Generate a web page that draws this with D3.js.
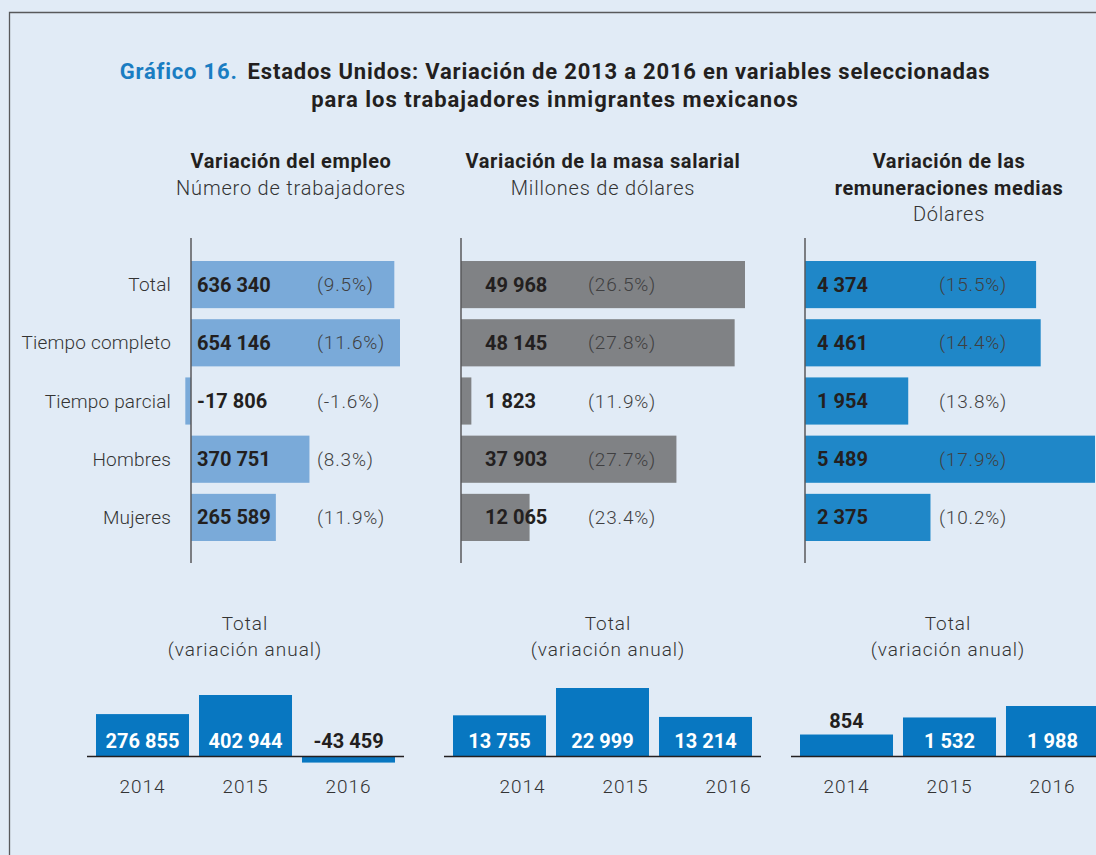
<!DOCTYPE html>
<html>
<head>
<meta charset="utf-8">
<script src="https://cdn.jsdelivr.net/npm/d3@7/dist/d3.min.js"></script>
<style>
  body { margin: 0; background: #e1ebf6; }
  svg { display: block; font-family: Roboto, "Noto Sans", sans-serif; }
</style>
</head>
<body>
<svg id="chart" width="1096" height="855"></svg>
<script>
// Categories and values
const categories = ["Total", "Tiempo completo", "Tiempo parcial", "Hombres", "Mujeres"];
const empleo = [636340, 654146, -17806, 370751, 265589];
const empleoPct = ["9.5%", "11.6%", "-1.6%", "8.3%", "11.9%"];
const masa = [49968, 48145, 1823, 37903, 12065];
const masaPct = ["26.5%", "27.8%", "11.9%", "27.7%", "23.4%"];
const remuneracion = [4374, 4461, 1954, 5489, 2375];
const remuneracionPct = ["15.5%", "14.4%", "13.8%", "17.9%", "10.2%"];

const years = ["2014", "2015", "2016"];
const empleoAnual = [276855, 402944, -43459];
const masaAnual = [13755, 22999, 13214];
const remuneracionAnual = [854, 1532, 1988];

// Spanish style numbers: space as thousands separator, plain hyphen minus
const locale = d3.formatLocale({ decimal: ".", thousands: " ", grouping: [3], currency: ["", ""], minus: "-" });
const fmt = locale.format(",d");

const svg = d3.select("#chart");
const dark = "#231f20";
const grey = "#3f3f41";

// Frame round the figure
svg.append("path")
  .attr("d", "M9.5,855 V12.5 H1096")
  .attr("fill", "none")
  .attr("stroke", "#58595b")
  .attr("stroke-width", 1.3);

// Title
const title = svg.append("text")
  .attr("x", 555)
  .attr("y", 79)
  .attr("text-anchor", "middle")
  .attr("font-size", 22)
  .attr("font-weight", "bold")
  .attr("letter-spacing", 0.8)
  .attr("fill", dark);
title.append("tspan").attr("fill", "#1a7dc2").text("Gráfico 16.");
title.append("tspan").attr("dx", 10).text("Estados Unidos: Variación de 2013 a 2016 en variables seleccionadas");

svg.append("text")
  .attr("x", 555)
  .attr("y", 107)
  .attr("text-anchor", "middle")
  .attr("font-size", 22)
  .attr("font-weight", "bold")
  .attr("letter-spacing", 1)
  .attr("fill", dark)
  .text("para los trabajadores inmigrantes mexicanos");

// Shared vertical band for the horizontal bar panels
const y = d3.scaleBand()
  .domain(categories)
  .range([261, 541])
  .paddingInner(0.19)
  .paddingOuter(0);

// Category labels on the left
svg.append("g")
  .selectAll("text")
  .data(categories)
  .join("text")
  .attr("x", 171)
  .attr("y", (d) => y(d) + y.bandwidth() / 2)
  .attr("dy", "0.35em")
  .attr("text-anchor", "end")
  .attr("font-size", 19)
  .attr("font-weight", 300)
  .attr("letter-spacing", 0.2)
  .attr("fill", "#333")
  .text((d) => d);

function drawPanel(opts) {
  const g = svg.append("g");

  // Header lines
  opts.header.forEach((line, i) => {
    g.append("text")
      .attr("x", opts.center)
      .attr("y", 168 + i * 26.5)
      .attr("text-anchor", "middle")
      .attr("font-size", 20)
      .attr("font-weight", line.bold ? "bold" : 300)
      .attr("letter-spacing", line.bold ? 0.6 : 0.8)
      .attr("fill", line.bold ? dark : "#333")
      .text(line.text);
  });

  const x = d3.scaleLinear().domain([0, opts.max]).range([opts.x0, opts.x0 + opts.width]);

  g.selectAll("rect")
    .data(opts.values)
    .join("rect")
    .attr("x", (d) => Math.min(x(0), x(d)))
    .attr("y", (d, i) => y(categories[i]))
    .attr("width", (d) => Math.abs(x(d) - x(0)))
    .attr("height", y.bandwidth())
    .attr("fill", opts.color);

  // Axis line
  g.append("line")
    .attr("x1", x(0))
    .attr("x2", x(0))
    .attr("y1", 238)
    .attr("y2", 563)
    .attr("stroke", "#58595b")
    .attr("stroke-width", 1.5);

  g.selectAll(".val")
    .data(opts.values)
    .join("text")
    .attr("class", "val")
    .attr("x", opts.valueX)
    .attr("y", (d, i) => y(categories[i]) + y.bandwidth() / 2)
    .attr("dy", "0.35em")
    .attr("font-size", 20)
    .attr("font-weight", "bold")
    .attr("fill", dark)
    .text((d) => fmt(d));

  g.selectAll(".pct")
    .data(opts.pct)
    .join("text")
    .attr("class", "pct")
    .attr("x", opts.pctX)
    .attr("y", (d, i) => y(categories[i]) + y.bandwidth() / 2)
    .attr("dy", "0.35em")
    .attr("font-size", 19)
    .attr("font-weight", 300)
    .attr("letter-spacing", 0.8)
    .attr("fill", grey)
    .text((d) => "(" + d + ")");
}

drawPanel({
  header: [{ text: "Variación del empleo", bold: true }, { text: "Número de trabajadores" }],
  center: 291, values: empleo, pct: empleoPct, max: 654146,
  x0: 191, width: 209, valueX: 197, pctX: 317, color: "#7aaad9"
});

drawPanel({
  header: [{ text: "Variación de la masa salarial", bold: true }, { text: "Millones de dólares" }],
  center: 603, values: masa, pct: masaPct, max: 49968,
  x0: 461, width: 284, valueX: 485, pctX: 588, color: "#808285"
});

drawPanel({
  header: [{ text: "Variación de las", bold: true }, { text: "remuneraciones medias", bold: true }, { text: "Dólares" }],
  center: 949, values: remuneracion, pct: remuneracionPct, max: 5489,
  x0: 805, width: 290, valueX: 817, pctX: 939, color: "#1f87c8"
});

// Small yearly column charts
function drawAnnual(opts) {
  const g = svg.append("g");
  const base = 756;

  ["Total", "(variación anual)"].forEach((t, i) => {
    g.append("text")
      .attr("x", opts.center)
      .attr("y", 630 + i * 26)
      .attr("text-anchor", "middle")
      .attr("font-size", 19)
      .attr("font-weight", 300)
      .attr("letter-spacing", 1)
      .attr("fill", "#333")
      .text(t);
  });

  const x = d3.scaleBand()
    .domain(years)
    .range([opts.x0, opts.x0 + 299])
    .paddingInner(0.097)
    .paddingOuter(0);

  const yy = d3.scaleLinear().domain([0, opts.max]).range([base, base - opts.height]);

  g.selectAll("rect")
    .data(opts.values)
    .join("rect")
    .attr("x", (d, i) => x(years[i]))
    .attr("y", (d) => Math.min(yy(d), yy(0)))
    .attr("width", x.bandwidth())
    .attr("height", (d) => Math.abs(yy(d) - yy(0)))
    .attr("fill", "#0877c1");

  g.append("line")
    .attr("x1", opts.x0 - 9)
    .attr("x2", opts.x0 + 308)
    .attr("y1", base + 0.5)
    .attr("y2", base + 0.5)
    .attr("stroke", "#231f20")
    .attr("stroke-width", 1.3);

  g.selectAll(".val")
    .data(opts.values)
    .join("text")
    .attr("class", "val")
    .attr("x", (d, i) => x(years[i]) + x.bandwidth() / 2)
    .attr("y", (d) => {
      const h = yy(0) - yy(d);
      if (d < 0) return base - 8;
      return h < 30 ? yy(d) - 7 : base - 8;
    })
    .attr("text-anchor", "middle")
    .attr("font-size", 20)
    .attr("font-weight", "bold")
    .attr("fill", (d) => (d < 0 || yy(0) - yy(d) < 30 ? dark : "#fff"))
    .text((d) => fmt(d));

  g.selectAll(".year")
    .data(years)
    .join("text")
    .attr("class", "year")
    .attr("x", (d) => x(d) + x.bandwidth() / 2 + opts.yearShift)
    .attr("y", 793)
    .attr("text-anchor", "middle")
    .attr("font-size", 19)
    .attr("font-weight", 300)
    .attr("letter-spacing", 1)
    .attr("fill", "#333")
    .text((d) => d);
}

drawAnnual({ center: 245, x0: 96, values: empleoAnual, max: 402944, height: 61, yearShift: 0 });
drawAnnual({ center: 608, x0: 453, values: masaAnual, max: 22999, height: 68, yearShift: 23 });
drawAnnual({ center: 948, x0: 800, values: remuneracionAnual, max: 1988, height: 50, yearShift: 0 });
</script>
</body>
</html>
